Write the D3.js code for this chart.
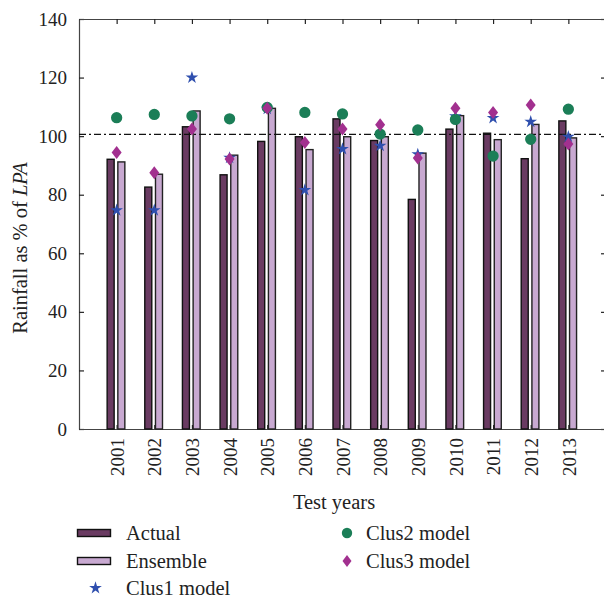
<!DOCTYPE html>
<html>
<head>
<meta charset="utf-8">
<script src="https://cdn.jsdelivr.net/npm/d3@7"></script>
<style>
  html, body { margin: 0; padding: 0; background: #fff; }
  svg { display: block; }
  text { font-family: "Liberation Serif", "DejaVu Serif", serif; fill: #222; }
</style>
</head>
<body>
<svg id="chart" width="604" height="599"></svg>
<script>
// Test years and rainfall (% of LPA)
const years    = [2001, 2002, 2003, 2004, 2005, 2006, 2007, 2008, 2009, 2010, 2011, 2012, 2013];
const actual   = [92.1, 82.6, 103.2, 86.8, 98.2, 99.8, 105.9, 98.5, 78.4, 102.4, 101.0, 92.3, 105.2];
const ensemble = [91.2, 87.0, 108.6, 93.5, 109.5, 95.4, 99.8, 99.8, 94.2, 107.0, 98.8, 104.0, 99.4];
const clus1    = [74.7, 74.7, 120.0, 92.6, 109.3, 81.6, 95.6, 96.7, 93.8, 106.8, 106.2, 104.9, 99.8];
const clus2    = [106.3, 107.4, 106.9, 105.9, 109.8, 108.1, 107.6, 100.7, 102.1, 105.7, 93.2, 98.9, 109.2];
const clus3    = [94.4, 87.5, 102.4, 92.2, 109.5, 97.8, 102.4, 103.9, 92.5, 109.5, 108.1, 110.6, 97.3];
const lpaLine  = 100.6;
const yTicks   = [0, 20, 40, 60, 80, 100, 120, 140];

const colors = {
  actual: "#6a3b62",
  ensemble: "#c8a9d1",
  clus1: "#2f4fae",
  clus2: "#1b7e57",
  clus3: "#a2308f"
};

const svg = d3.select("#chart");
const plotL = 79, plotR = 606, plotT = 19, plotB = 429;

const x = d3.scaleLinear().domain([2000, 2014]).range([plotL, plotR]);
const y = d3.scaleLinear().domain([0, 140]).range([plotB, plotT]);

const axisColor = "#444";

// Frame axes with inward ticks
const gLeft = svg.append("g").attr("transform", `translate(${plotL},0)`)
  .call(d3.axisLeft(y).tickValues(yTicks).tickSizeInner(-5).tickSizeOuter(0).tickPadding(12));

const gRight = svg.append("g").attr("transform", `translate(${plotR},0)`)
  .call(d3.axisRight(y).tickValues(yTicks).tickSizeInner(-5).tickSizeOuter(0).tickFormat(""));

const gTop = svg.append("g").attr("transform", `translate(0,${plotT})`)
  .call(d3.axisTop(x).tickValues(years).tickSizeInner(-5).tickSizeOuter(0).tickFormat(""));

const gBottom = svg.append("g").attr("transform", `translate(0,${plotB})`)
  .call(d3.axisBottom(x).tickValues(years).tickSizeInner(-4).tickSizeOuter(0).tickFormat(d3.format("d")));
gBottom.selectAll("text")
  .attr("text-anchor", "end")
  .attr("dy", "0.35em")
  .attr("transform", "rotate(-90)")
  .attr("x", -9)
  .attr("y", 0);

[gLeft, gRight, gTop, gBottom].forEach(g => {
  g.select(".domain").attr("stroke", axisColor).attr("stroke-width", 1.2);
  g.selectAll(".tick line").attr("stroke", "#222").attr("stroke-width", 1.2);
  g.selectAll("text")
    .attr("fill", "#222")
    .attr("font-family", "Liberation Serif, DejaVu Serif, serif")
    .attr("font-size", 19);
});

// Bars
const barW = 7;
const bars = svg.append("g");
bars.selectAll("rect.actual")
  .data(years.map((yr, i) => ({ yr, v: actual[i] })))
  .join("rect")
  .attr("class", "actual")
  .attr("x", d => x(d.yr) - 9.5)
  .attr("y", d => y(d.v))
  .attr("width", barW)
  .attr("height", d => y(0) - y(d.v))
  .attr("fill", colors.actual)
  .attr("stroke", "#111")
  .attr("stroke-width", 1.4);

bars.selectAll("rect.ensemble")
  .data(years.map((yr, i) => ({ yr, v: ensemble[i] })))
  .join("rect")
  .attr("class", "ensemble")
  .attr("x", d => x(d.yr) + 1.2)
  .attr("y", d => y(d.v))
  .attr("width", barW)
  .attr("height", d => y(0) - y(d.v))
  .attr("fill", colors.ensemble)
  .attr("stroke", "#222")
  .attr("stroke-width", 1.4);

// Long-period-average reference line
svg.append("line")
  .attr("x1", plotL).attr("x2", plotR)
  .attr("y1", y(lpaLine)).attr("y2", y(lpaLine))
  .attr("stroke", "#111")
  .attr("stroke-width", 1.1)
  .attr("stroke-dasharray", "7,3,2,3");

// Model markers
const star = d3.symbol().type(d3.symbolStar).size(50);
const circ = d3.symbol().type(d3.symbolCircle).size(100);
const diamond = "M0,-6.5L5,0L0,6.5L-5,0Z";

const marks = svg.append("g");
marks.selectAll("path.c1")
  .data(years.map((yr, i) => ({ yr, v: clus1[i] })))
  .join("path").attr("class", "c1")
  .attr("d", star)
  .attr("transform", d => `translate(${x(d.yr)},${y(d.v)})`)
  .attr("fill", colors.clus1);

marks.selectAll("path.c2")
  .data(years.map((yr, i) => ({ yr, v: clus2[i] })))
  .join("path").attr("class", "c2")
  .attr("d", circ)
  .attr("transform", d => `translate(${x(d.yr)},${y(d.v)})`)
  .attr("fill", colors.clus2);

marks.selectAll("path.c3")
  .data(years.map((yr, i) => ({ yr, v: clus3[i] })))
  .join("path").attr("class", "c3")
  .attr("d", diamond)
  .attr("transform", d => `translate(${x(d.yr)},${y(d.v)})`)
  .attr("fill", colors.clus3);

// Axis titles
const yTitle = svg.append("text")
  .attr("transform", `translate(27,248) rotate(-90)`)
  .attr("text-anchor", "middle")
  .style("font-size", "20.5px");
yTitle.append("tspan").text("Rainfall as % of ");
yTitle.append("tspan").attr("font-style", "italic").text("LPA");

svg.append("text")
  .attr("x", 334).attr("y", 508.5)
  .attr("text-anchor", "middle")
  .style("font-size", "20.5px")
  .text("Test years");

// Legend
const legend = svg.append("g");
const items = [
  { label: "Actual",      kind: "bar",  color: colors.actual,   lx: 77,  ly: 533 },
  { label: "Ensemble",    kind: "bar",  color: colors.ensemble, lx: 77,  ly: 561 },
  { label: "Clus1 model", kind: "star", color: colors.clus1,    lx: 77,  ly: 588 },
  { label: "Clus2 model", kind: "circ", color: colors.clus2,    lx: 330, ly: 533 },
  { label: "Clus3 model", kind: "dia",  color: colors.clus3,    lx: 330, ly: 561 }
];
items.forEach(it => {
  const g = legend.append("g").attr("transform", `translate(${it.lx},${it.ly})`);
  if (it.kind === "bar") {
    g.append("rect").attr("x", 0.5).attr("y", -3.5).attr("width", 33).attr("height", 7)
      .attr("fill", it.color).attr("stroke", "#111").attr("stroke-width", 1.4);
  } else if (it.kind === "star") {
    g.append("path").attr("d", star).attr("transform", "translate(18.5,0)").attr("fill", it.color);
  } else if (it.kind === "circ") {
    g.append("path").attr("d", d3.symbol().type(d3.symbolCircle).size(85)).attr("transform", "translate(17,0)").attr("fill", it.color);
  } else {
    g.append("path").attr("d", "M0,-6L4.5,0L0,6L-4.5,0Z").attr("transform", "translate(17,0)").attr("fill", it.color);
  }
  g.append("text").attr("x", it.kind === "bar" || it.kind === "star" ? 49 : 36).attr("y", 7)
    .style("font-size", "20.5px").text(it.label);
});
</script>
</body>
</html>
